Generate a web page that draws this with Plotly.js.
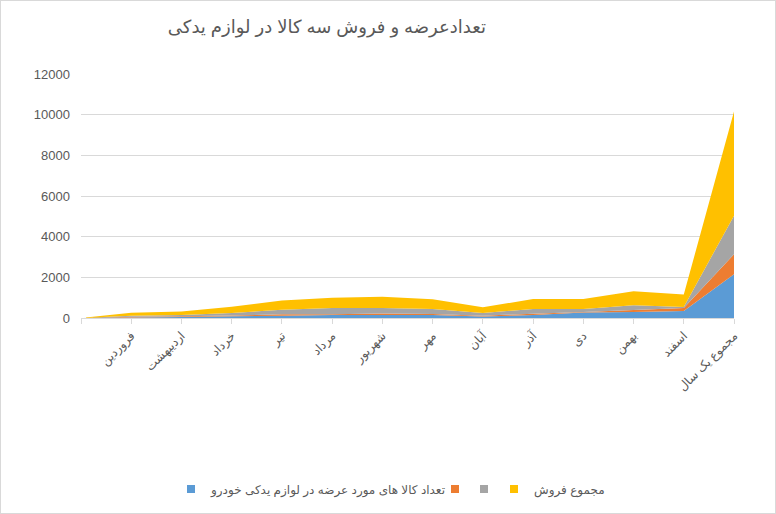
<!DOCTYPE html>
<html>
<head>
<meta charset="utf-8">
<script src="https://cdn.plot.ly/plotly-3.0.1.min.js"></script>
<style>
html,body{margin:0;padding:0;background:#fff;}
#chart{width:774px;height:512px;border:1px solid #d9d9d9;}
</style>
</head>
<body>
<div id="chart"></div>
<script>
// Categories (first one is blank in the source sheet)
const categories = ['', 'فروردین', 'اردیبهشت', 'خرداد', 'تیر', 'مرداد', 'شهریور', 'مهر', 'آبان', 'آذر', 'دی', 'بهمن', 'اسفند', 'مجموع یک سال'];

const seriesNames = ['تعداد کالا های مورد عرضه در لوازم یدکی خودرو', '', ' ', 'مجموع فروش'];

const blueValues   = [0, 30, 45, 80, 115, 150, 150, 150, 70, 150, 265, 295, 345, 2150];
const orangeValues = [0, 30, 35, 40, 65, 40, 75, 50, 45, 65, 30, 100, 145, 980];
const grayValues   = [0, 50, 70, 125, 220, 300, 265, 245, 135, 230, 150, 230, 50, 1900];
const yellowValues = [0, 150, 175, 310, 465, 510, 560, 475, 275, 485, 485, 685, 610, 5120];

const colors = ['#5B9BD5', '#ED7D31', '#A5A5A5', '#FFC000'];
const allValues = [blueValues, orangeValues, grayValues, yellowValues];

const xIdx = categories.map((c, i) => i);

const areaTraces = allValues.map((vals, k) => ({
  type: 'scatter',
  x: xIdx,
  y: vals,
  name: seriesNames[k],
  stackgroup: 'one',
  mode: 'none',
  fillcolor: colors[k],
  line: {width: 0, color: colors[k]},
  showlegend: false,
  hoverinfo: 'y'
}));

// legend-only entries with square swatches, one small legend each
const legendIds = ['legend', 'legend2', 'legend3', 'legend4'];
const legendTraces = seriesNames.map((nm, k) => ({
  type: 'scatter',
  x: [null],
  y: [null],
  name: nm,
  mode: 'markers',
  marker: {symbol: 'square', size: 8, color: colors[k]},
  showlegend: true,
  legend: legendIds[k],
  hoverinfo: 'skip'
}));

const fontFam = 'Liberation Sans, Arial, DejaVu Sans, sans-serif';

const legendLeft = [170, 434, 463, 493];
function legendCfg(left) {
  return {
    orientation: 'h',
    xref: 'container',
    x: left / 774,
    xanchor: 'left',
    yref: 'container',
    y: 1 - 488 / 512,
    yanchor: 'middle',
    font: {family: fontFam, size: 12, color: '#595959'},
    itemwidth: 30,
    bgcolor: 'rgba(0,0,0,0)'
  };
}

const layout = {
  width: 774,
  height: 512,
  margin: {l: 80, r: 41, t: 73, b: 195},
  paper_bgcolor: '#ffffff',
  plot_bgcolor: '#ffffff',
  font: {family: fontFam, color: '#595959', size: 13},
  title: {
    text: 'تعدادعرضه و فروش سه کالا در لوازم یدکی',
    font: {family: fontFam, size: 18, color: '#595959'},
    x: 0.421, xref: 'container', xanchor: 'center',
    y: 0.949, yref: 'container', yanchor: 'middle'
  },
  xaxis: {
    type: 'linear',
    range: [0, categories.length - 1],
    tickmode: 'array',
    tickvals: xIdx,
    ticktext: categories,
    tickangle: -45,
    showgrid: false,
    zeroline: false,
    showline: true,
    linecolor: '#d9d9d9',
    linewidth: 1,
    ticks: 'outside',
    ticklen: 5,
    tickcolor: '#d9d9d9',
    tickfont: {family: fontFam, size: 12, color: '#595959'},
    fixedrange: true
  },
  yaxis: {
    range: [0, 12000],
    dtick: 2000,
    tick0: 0,
    tickformat: 'd',
    showgrid: true,
    gridcolor: '#d9d9d9',
    gridwidth: 1,
    zeroline: false,
    showline: false,
    ticks: '',
    ticklabelstandoff: 10,
    tickfont: {family: fontFam, size: 13, color: '#595959'},
    fixedrange: true
  },
  showlegend: true,
  legend: legendCfg(legendLeft[0]),
  legend2: legendCfg(legendLeft[1]),
  legend3: legendCfg(legendLeft[2]),
  legend4: legendCfg(legendLeft[3])
};

Plotly.newPlot('chart', areaTraces.concat(legendTraces), layout, {displayModeBar: false, staticPlot: true});
</script>
</body>
</html>
